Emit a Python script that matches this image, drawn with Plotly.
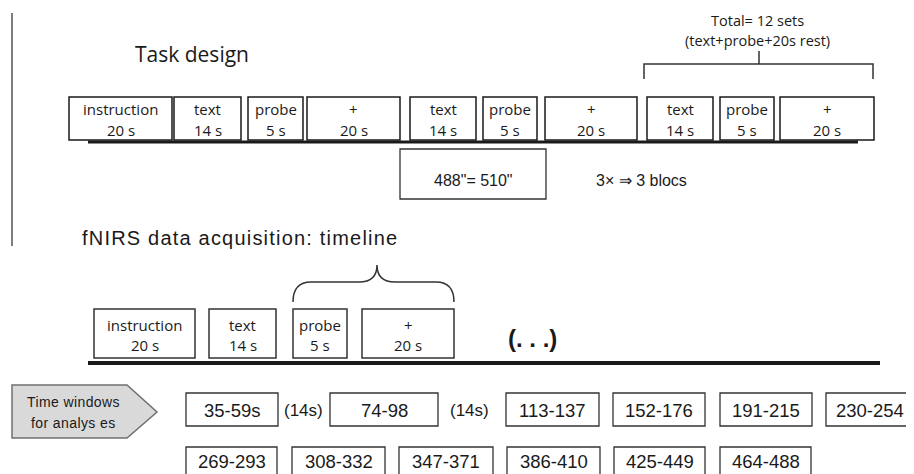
import plotly.graph_objects as go

# ---------------- data (labels / values) ----------------
task_names = ["instruction", "text", "probe", "+", "text", "probe", "+", "text", "probe", "+"]
task_durations = ["20 s", "14 s", "5 s", "20 s", "14 s", "5 s", "20 s", "14 s", "5 s", "20 s"]

timeline_names = ["instruction", "text", "probe", "+"]
timeline_durations = ["20 s", "14 s", "5 s", "20 s"]

window_labels_row1 = ["35-59s", "74-98", "113-137", "152-176", "191-215", "230-254"]
gap_labels = ["(14s)", "(14s)"]
window_labels_row2 = ["269-293", "308-332", "347-371", "386-410", "425-449", "464-488"]

total_text = ["Total= 12 sets", "(text+probe+20s rest)"]
block_text = "488\"= 510\""
repeat_text = "3\u00d7 \u21d2 3 blocs"

# ---------------- layout geometry (page pixels) ----------------
task_x0 = [69, 174, 248, 307, 410, 483, 545, 647, 720, 780]
task_x1 = [172, 241, 303, 400, 476, 537, 637, 713, 774, 874]
TASK_Y0, TASK_Y1 = 97, 140

tl_x0 = [94, 209, 293, 362]
tl_x1 = [195, 276, 347, 454]
TL_Y0, TL_Y1 = 309, 358

w1_x0 = [186, 330, 506, 613, 720, 826]
w1_x1 = [278, 438, 599, 705, 812, 914]
gap_x = [303, 469]
W1_Y0, W1_Y1 = 393, 426
w2_x0 = [186, 292, 399, 507, 614, 720]
w2_x1 = [277, 385, 493, 600, 705, 811]
W2_Y0, W2_Y1 = 447, 480

BOX_FONT = "Open Sans, Noto Sans, sans-serif"
ARIAL = "Liberation Sans, Arial, sans-serif"
INK = "#1a1a1a"

fig = go.Figure()
shapes = []
annotations = []


def rect(x0, y0, x1, y1, width=1.5, color=INK, fill="white"):
    shapes.append(dict(type="rect", xref="x", yref="y", x0=x0, y0=y0, x1=x1, y1=y1,
                       line=dict(color=color, width=width), fillcolor=fill, layer="above"))


def text(x, y, s, size, family=BOX_FONT, color=INK, xanchor="center"):
    annotations.append(dict(x=x, y=y, xref="x", yref="y", text=s, showarrow=False,
                            font=dict(size=size, family=family, color=color),
                            xanchor=xanchor, yanchor="middle"))


def line(x0, y0, x1, y1, width, color=INK):
    shapes.append(dict(type="line", xref="x", yref="y", x0=x0, y0=y0, x1=x1, y1=y1,
                       line=dict(color=color, width=width), layer="above"))


# left vertical rule
line(12, 13, 12, 246, 1.5, "#555555")

# ---- Task design ----
text(192, 54, "Task design", 21, BOX_FONT)
line(88, 142, 858, 142, 3)
for n, d, a, b in zip(task_names, task_durations, task_x0, task_x1):
    rect(a, TASK_Y0, b, TASK_Y1)
    text((a + b) / 2, 109, n, 15)
    text((a + b) / 2, 130, d, 15)

# bracket "Total = 12 sets"
shapes.append(dict(type="path", xref="x", yref="y",
                   path="M 644,79 L 644,64 L 873,64 L 873,79 M 759,64 L 759,51",
                   line=dict(color="#333333", width=1.5)))
text(757, 20, total_text[0], 14.5, BOX_FONT)
text(757, 40, total_text[1], 14.5, BOX_FONT)

# block box
rect(400, 149, 546, 199, width=1.3, color="#333333")
text(473, 180, block_text, 16, ARIAL)
text(641, 180, repeat_text, 16, ARIAL)

# ---- fNIRS timeline ----
text(80, 238, "<span style='letter-spacing:1.2px'>fNIRS data acquisition: timeline</span>",
     20, ARIAL, xanchor="left")
line(88, 363, 880, 363, 4)
for n, d, a, b in zip(timeline_names, timeline_durations, tl_x0, tl_x1):
    rect(a, TL_Y0, b, TL_Y1, width=1.5, color="#333333")
    text((a + b) / 2, 325, n, 15)
    text((a + b) / 2, 345, d, 15)

# curly brace above probe + rest
shapes.append(dict(type="path", xref="x", yref="y",
                   path=("M 293,302 Q 293,282 311,282 L 359,282 Q 377,282 377,265 "
                         "Q 377,282 395,282 L 436,282 Q 454,282 454,302"),
                   line=dict(color="#333333", width=1.5)))
text(532, 338, "<b>(. . .)</b>", 24, ARIAL)

# ---- time windows ----
shapes.append(dict(type="path", xref="x", yref="y",
                   path="M 12,385 L 127,385 L 157,412 L 127,438 L 12,438 Z",
                   line=dict(color="#707070", width=1.5), fillcolor="#d9d9d9"))
text(73, 402, "<span style='letter-spacing:0.4px'>Time windows</span>", 14, ARIAL)
text(73, 423, "<span style='letter-spacing:0.4px'>for analys es</span>", 14, ARIAL)

for lab, a, b in zip(window_labels_row1, w1_x0, w1_x1):
    rect(a, W1_Y0, b, W1_Y1, width=1.3, color="#333333")
    text((a + b) / 2, 410, lab, 18.5, ARIAL)
for lab, gx in zip(gap_labels, gap_x):
    text(gx, 410, lab, 17, ARIAL)
for lab, a, b in zip(window_labels_row2, w2_x0, w2_x1):
    rect(a, W2_Y0, b, W2_Y1, width=1.3, color="#333333")
    text((a + b) / 2, 461, lab, 18.5, ARIAL)

# page has an 8px body margin: map data coordinates directly to page pixels
fig.update_layout(
    width=906, height=466,
    margin=dict(l=0, r=0, t=0, b=0),
    paper_bgcolor="white", plot_bgcolor="white",
    xaxis=dict(range=[8, 914], visible=False, fixedrange=True),
    yaxis=dict(range=[474, 8], visible=False, fixedrange=True),
    shapes=shapes, annotations=annotations, showlegend=False,
)
fig.write_html("out.html")
